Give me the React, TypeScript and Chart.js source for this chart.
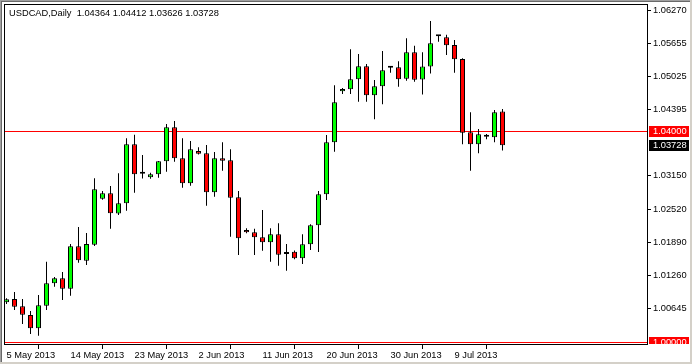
import { useEffect, useRef } from "react";
import { Chart, registerables } from "chart.js";

Chart.register(...registerables);

// Daily USDCAD candles (one per trading day, Sundays included), 5 May 2013 -> 16 Jul 2013
const opens = [
  1.00756, 1.00819, 1.00681, 1.00516, 1.00265, 1.00692, 1.01116, 1.0121, 1.01013, 1.01815,
  1.01543, 1.01845, 1.02715, 1.02817, 1.02435, 1.02628, 1.03746, 1.03188, 1.0312, 1.03178,
  1.03422, 1.04065, 1.03479, 1.03006, 1.03617, 1.03574, 1.02836, 1.03479, 1.03443, 1.02742,
  1.02123, 1.0208, 1.01985, 1.01891, 1.02042, 1.0167, 1.01713, 1.01588, 1.01853, 1.02212,
  1.02798, 1.03782, 1.04746, 1.04784, 1.04973, 1.05219, 1.0467, 1.0484, 1.05192, 1.052,
  1.04984, 1.05483, 1.04969, 1.05215, 1.05786, 1.05767, 1.05621, 1.05357, 1.03971, 1.03744,
  1.03888, 1.03876, 1.04364,
];
const highs = [
  1.00832, 1.00951, 1.00819, 1.00592, 1.00894, 1.01524, 1.01235, 1.01329, 1.01859, 1.0218,
  1.02067, 1.03101, 1.02861, 1.02955, 1.03195, 1.03857, 1.03923, 1.03541, 1.03207, 1.03428,
  1.04128, 1.04184, 1.03857, 1.03806, 1.03687, 1.03731, 1.03598, 1.03784, 1.03649, 1.02861,
  1.02156, 1.02148, 1.02502, 1.02156, 1.0225, 1.01859, 1.01736, 1.02042, 1.02231, 1.02861,
  1.0392, 1.04859, 1.04808, 1.0554, 1.05451, 1.05262, 1.0496, 1.05508, 1.05224, 1.05313,
  1.05748, 1.05608, 1.05483, 1.06075, 1.05792, 1.05816, 1.05716, 1.0537, 1.04349, 1.04033,
  1.03939, 1.04392, 1.04412,
];
const lows = [
  1.00724, 1.00611, 1.00346, 1.00157, 1.00125, 1.00611, 1.01051, 1.008, 1.00881, 1.01505,
  1.01462, 1.01821, 1.02696, 1.02148, 1.02407, 1.02488, 1.02829, 1.03097, 1.03093, 1.03112,
  1.03226, 1.03415, 1.02923, 1.02961, 1.03551, 1.02583, 1.02753, 1.03245, 1.01997, 1.01651,
  1.02061, 1.01651, 1.01732, 1.01524, 1.01448, 1.01354, 1.01569, 1.01481, 1.01745, 1.01707,
  1.02691, 1.03604, 1.04695, 1.04695, 1.04549, 1.04549, 1.04217, 1.045, 1.05098, 1.04833,
  1.04946, 1.04927, 1.04685, 1.05083, 1.05684, 1.05432, 1.05098, 1.03744, 1.03245, 1.03574,
  1.03838, 1.03782, 1.03626,
];
const closes = [
  1.00813, 1.00673, 1.00522, 1.00265, 1.007, 1.01116, 1.0121, 1.01013, 1.01815, 1.0155,
  1.01859, 1.02893, 1.02817, 1.02439, 1.02628, 1.03746, 1.03177, 1.03188, 1.03177, 1.03422,
  1.04065, 1.03479, 1.03006, 1.03649, 1.03566, 1.02836, 1.03479, 1.03434, 1.02734, 1.01966,
  1.0208, 1.01985, 1.01891, 1.02042, 1.01656, 1.0167, 1.01588, 1.01853, 1.02212, 1.02798,
  1.03782, 1.04538, 1.04789, 1.04973, 1.05219, 1.0467, 1.0484, 1.05143, 1.05192, 1.04973,
  1.05483, 1.04965, 1.05215, 1.05653, 1.05786, 1.05616, 1.05351, 1.03963, 1.03744, 1.03933,
  1.03888, 1.04349, 1.03728,
];

const xTickIndex = [0, 8, 16, 24, 32, 40, 48, 56];
const xTickLabels = [
  "5 May 2013", "14 May 2013", "23 May 2013", "2 Jun 2013",
  "11 Jun 2013", "20 Jun 2013", "30 Jun 2013", "9 Jul 2013",
];
const yTickValues = [1.0627, 1.05655, 1.05025, 1.04395, 1.0315, 1.0252, 1.0189, 1.0126, 1.00645];
const levelLines = [1.04, 1.0];
const symbolTitle = "USDCAD,Daily";

const FONT = "'Liberation Sans', Arial, sans-serif";
const FSIZE = 9.3;
const UP = "#00ff00";
const DOWN = "#ff0000";

const framePlugin = {
  id: "mtFrame",
  beforeDatasetsDraw(chart: any) {
    const { ctx, chartArea } = chart;
    const y = chart.scales.y;
    ctx.save();
    ctx.strokeStyle = "#ff0000";
    ctx.lineWidth = 1;
    for (const v of levelLines) {
      const py = Math.round(y.getPixelForValue(v)) + 0.5;
      ctx.beginPath();
      ctx.moveTo(chartArea.left, py);
      ctx.lineTo(chartArea.right, py);
      ctx.stroke();
    }
    ctx.restore();
  },
  afterDraw(chart: any) {
    const { ctx, chartArea, width, height } = chart;
    const y = chart.scales.y;
    ctx.save();
    // chart area border
    ctx.strokeStyle = "#000";
    ctx.lineWidth = 1;
    ctx.strokeRect(chartArea.left + 0.5, chartArea.top + 0.5, chartArea.right - chartArea.left - 1, chartArea.bottom - chartArea.top - 1);

    // price boxes on the axis
    const last = closes.length - 1;
    const boxes: [number, string][] = [
      [levelLines[0], "#ff0000"],
      [closes[last], "#000000"],
      [levelLines[1], "#ff0000"],
    ];
    ctx.save();
    ctx.beginPath();
    ctx.rect(0, 0, width, chartArea.bottom - 1);
    ctx.clip();
    ctx.font = `${FSIZE}px ${FONT}`;
    ctx.textBaseline = "middle";
    ctx.textAlign = "left";
    for (const [v, bg] of boxes) {
      const py = Math.round(y.getPixelForValue(v));
      ctx.fillStyle = bg;
      ctx.fillRect(chartArea.right + 1, py - 5, 40, 11);
      ctx.fillStyle = "#fff";
      ctx.fillText(v.toFixed(5), chartArea.right + 5, py + 0.5);
    }
    ctx.restore();

    // title
    ctx.font = `${FSIZE}px ${FONT}`;
    ctx.fillStyle = "#000";
    ctx.textBaseline = "alphabetic";
    ctx.textAlign = "left";
    const ohlc = [opens[last], highs[last], lows[last], closes[last]].map((v) => v.toFixed(5)).join(" ");
    ctx.fillText(`${symbolTitle}  ${ohlc}`, 9, 16);

    // outer window frame
    ctx.fillStyle = "#a0a0a0";
    ctx.fillRect(0, 0, width, 1);
    ctx.fillRect(0, 0, 1, height);
    ctx.fillStyle = "#696969";
    ctx.fillRect(1, 1, width - 2, 1);
    ctx.fillRect(1, 1, 1, height - 2);
    ctx.fillStyle = "#d4d0c8";
    ctx.fillRect(width - 2, 0, 2, height);
    ctx.fillRect(0, height - 2, width, 2);
    ctx.restore();
  },
};

export default function App() {
  const ref = useRef<HTMLCanvasElement | null>(null);

  useEffect(() => {
    const canvas = ref.current;
    if (!canvas) return;
    const wicks = opens.map((_, i) => ({ x: i, y: [lows[i], highs[i]] }));
    const bodies = opens.map((o, i) => ({ x: i, y: [o, closes[i]] }));
    const bodyColors = opens.map((o, i) => (closes[i] > o ? UP : closes[i] < o ? DOWN : "#000"));

    const chart = new Chart(canvas, {
      type: "bar",
      data: {
        datasets: [
          {
            label: "body",
            data: bodies as any,
            backgroundColor: bodyColors,
            borderColor: "#000",
            borderWidth: 1,
            borderSkipped: false,
            barThickness: 5,
            minBarLength: 2,
            inflateAmount: 0,
            grouped: false,
            order: 0,
          },
          {
            label: "wick",
            data: wicks as any,
            backgroundColor: "#000",
            borderWidth: 0,
            barThickness: 1,
            inflateAmount: 0,
            grouped: false,
            order: 1,
          },
        ],
      },
      options: {
        responsive: false,
        animation: false,
        events: [],
        layout: { padding: { left: 4, top: 4, right: 0, bottom: 0 } },
        plugins: { legend: { display: false }, tooltip: { enabled: false } },
        scales: {
          x: {
            type: "linear",
            min: -0.3125,
            max: 80.1875,
            offset: false,
            bounds: "data",
            border: { display: false },
            grid: { display: true, drawOnChartArea: false, drawTicks: true, tickLength: 4, color: "#000", lineWidth: 1 },
            ticks: {
              autoSkip: false,
              maxRotation: 0,
              minRotation: 0,
              align: "start",
              padding: 1,
              color: "#000",
              font: { family: FONT, size: FSIZE },
              callback: (v: any) => {
                const k = xTickIndex.indexOf(Number(v));
                return k >= 0 ? xTickLabels[k] : "";
              },
            },
            afterBuildTicks: (s: any) => {
              s.ticks = xTickIndex.map((v) => ({ value: v }));
            },
            afterFit: (s: any) => {
              s.height = 19;
              s.paddingLeft = 0;
              s.paddingRight = 0;
              s.paddingTop = 0;
              s.paddingBottom = 0;
            },
          },
          y: {
            type: "linear",
            position: "right",
            min: 0.999489,
            max: 1.063966,
            bounds: "data",
            border: { display: false },
            grid: { display: true, drawOnChartArea: false, drawTicks: true, tickLength: 3, color: "#000", lineWidth: 1 },
            ticks: {
              autoSkip: false,
              padding: 2,
              color: "#000",
              font: { family: FONT, size: FSIZE },
              callback: (v: any) => Number(v).toFixed(5),
            },
            afterBuildTicks: (s: any) => {
              s.ticks = yTickValues.map((v) => ({ value: v }));
            },
            afterFit: (s: any) => {
              s.width = 44;
              s.paddingLeft = 0;
              s.paddingRight = 0;
              s.paddingTop = 0;
              s.paddingBottom = 0;
            },
          },
        },
      } as any,
      plugins: [framePlugin],
    });
    return () => chart.destroy();
  }, []);

  return (
    <div style={{ position: "fixed", left: 0, top: 0, width: 692, height: 364, background: "#fff" }}>
      <canvas ref={ref} width={692} height={364} style={{ display: "block" }} />
    </div>
  );
}
